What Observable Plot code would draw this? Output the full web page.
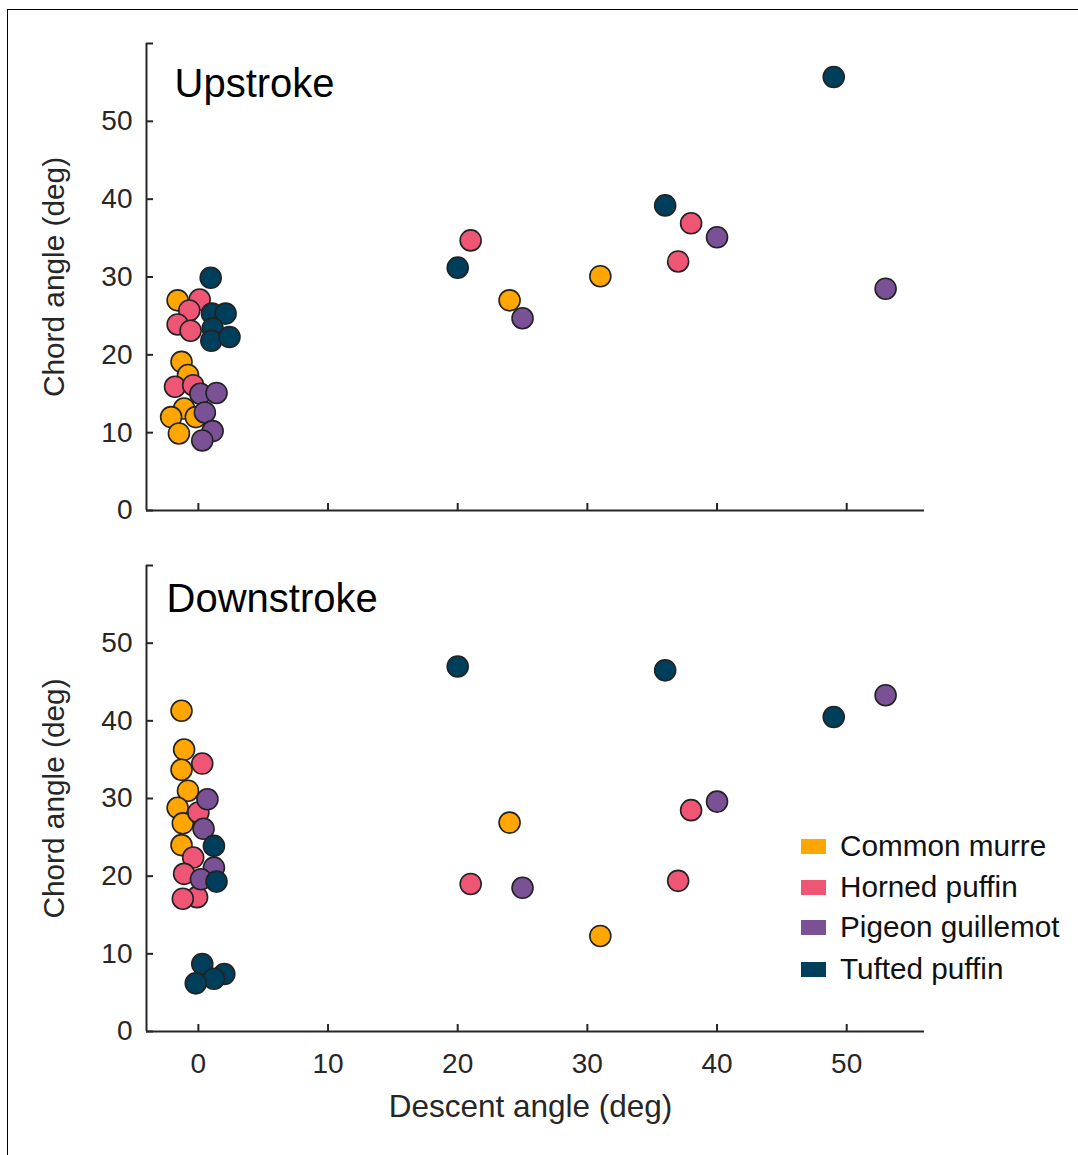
<!DOCTYPE html>
<html>
<head>
<meta charset="utf-8">
<script src="https://cdn.jsdelivr.net/npm/d3@7"></script>
<script src="https://cdn.jsdelivr.net/npm/@observablehq/plot@0.6"></script>
<style>
  html, body { margin: 0; padding: 0; background: #fff; }
  #wrap { position: relative; width: 1078px; height: 1155px; overflow: hidden; font-family: "Liberation Sans", Arial, sans-serif; }
  #frame { position: absolute; left: 7px; top: 9px; right: -5px; bottom: -5px; border-top: 1px solid #000; border-left: 1px solid #000; }
  .panel { position: absolute; left: 0; }
  #legend { position: absolute; left: 801px; top: 826px; }
  .row { position: absolute; left: 0; height: 40px; display: flex; align-items: center; white-space: nowrap; }
  .sw { width: 25px; height: 15px; margin-right: 14px; }
  .lab { font-size: 29.7px; color: #111; }
</style>
</head>
<body>
<div id="wrap"><div id="frame"></div></div>
<script>
// ---- data ----
const species = ["Common murre", "Horned puffin", "Pigeon guillemot", "Tufted puffin"];
const colors = ["#ffa600", "#ef5675", "#7a5195", "#003f5c"];
const panels = ["Upstroke", "Downstroke"];
const xTicks = [0, 10, 20, 30, 40, 50];
const yTicks = [0, 10, 20, 30, 40, 50, 60];

// [descent angle, chord angle]
const upMurre = [[-1.6,27.0],[-1.3,19.1],[-0.8,17.4],[-1.1,13.1],[-2.1,12.0],[-0.2,12.0],[-1.5,9.9],[24,27.0],[31,30.1]];
const upHorned = [[0.1,27.1],[-0.7,25.7],[-1.6,23.9],[-0.6,23.1],[-1.8,15.9],[-0.4,16.1],[21,34.7],[38,36.9],[37,32.0]];
const upPigeon = [[0.15,15.0],[1.4,15.1],[0.5,12.6],[1.1,10.2],[0.3,9.0],[25,24.7],[40,35.1],[53,28.5]];
const upTufted = [[0.95,29.9],[1.05,25.3],[2.1,25.3],[1.1,23.4],[1.0,21.8],[2.4,22.3],[20,31.2],[36,39.2],[49,55.7]];

const downMurre = [[-1.3,41.3],[-1.1,36.3],[-1.3,33.7],[-0.8,31.0],[-1.6,28.8],[-1.2,26.8],[-1.3,24.0],[24,26.9],[31,12.3]];
const downHorned = [[0.3,34.5],[0.0,28.2],[-0.4,22.4],[-1.1,20.3],[-0.1,17.3],[-1.2,17.1],[21,19.0],[38,28.5],[37,19.4]];
const downPigeon = [[0.7,29.9],[0.4,26.1],[1.2,21.1],[0.2,19.6],[25,18.5],[40,29.6],[53,43.3]];
const downTufted = [[1.2,23.9],[1.4,19.3],[0.3,8.7],[2.0,7.4],[1.2,6.8],[-0.2,6.2],[20,47.0],[36,46.5],[49,40.5]];

function rows(groups) {
  const out = [];
  groups.forEach((g, i) => g.forEach(([x, y]) => out.push({species: species[i], x, y})));
  return out;
}
const upData = rows([upMurre, upHorned, upPigeon, upTufted]);
const downData = rows([downMurre, downHorned, downPigeon, downTufted]);

const ink = "#262626";
const font = "'Liberation Sans', Arial, sans-serif";

function panel(data, title, opts) {
  return Plot.plot({
    width: 1078,
    height: opts.height,
    marginTop: opts.marginTop,
    marginBottom: opts.marginBottom,
    marginLeft: 146,
    marginRight: 154,
    style: {fontFamily: font, color: ink, background: "transparent", overflow: "visible"},
    x: {domain: [-4, 56]},
    y: {domain: [0, 60]},
    color: {domain: species, range: colors},
    marks: [
      Plot.ruleY([0], {stroke: ink, strokeWidth: 2}),
      Plot.ruleX([-4], {stroke: ink, strokeWidth: 2}),
      Plot.axisY({ticks: yTicks, tickSize: -7, tickPadding: 21, strokeWidth: 2, fontSize: 28, fill: ink,
        tickFormat: d => d === 60 ? "" : String(d), label: null}),
      Plot.axisX({ticks: xTicks, tickSize: -7, tickPadding: 29, strokeWidth: 2, fontSize: 28, fill: ink,
        tickFormat: opts.xLabels ? (d => String(d)) : (() => ""), label: null}),
      Plot.text(["Chord angle (deg)"], {frameAnchor: "left", rotate: -90, dx: -92, fontSize: 29.8, fill: ink, textAnchor: "middle"}),
      Plot.text([title], {frameAnchor: "top-left", textAnchor: "start", lineAnchor: "top", dx: opts.titleDx, dy: opts.titleDy, fontSize: 40, fill: "#000"}),
      ...(opts.xLabels ? [Plot.text(["Descent angle (deg)"], {frameAnchor: "bottom", lineAnchor: "top", dx: -5, dy: 63, fontSize: 31.5, fill: ink})] : []),
      Plot.dot(data, {x: "x", y: "y", fill: "species", r: 10.5, stroke: "#222", strokeWidth: 1.6})
    ]
  });
}

const wrap = document.getElementById("wrap");
const up = panel(upData, panels[0], {height: 540, marginTop: 43, marginBottom: 30, titleDx: 28, titleDy: 25, xLabels: false});
up.classList.add("panel"); up.style.top = "0px";
wrap.appendChild(up);
const down = panel(downData, panels[1], {height: 625, marginTop: 35, marginBottom: 124, titleDx: 20, titleDy: 18, xLabels: true});
down.classList.add("panel"); down.style.top = "530px";
wrap.appendChild(down);

const legend = document.createElement("div");
legend.id = "legend";
const rowTops = [0, 41, 81, 123];
species.forEach((s, i) => {
  const r = document.createElement("div");
  r.className = "row";
  r.style.top = rowTops[i] + "px";
  const sw = document.createElement("div");
  sw.className = "sw"; sw.style.background = colors[i];
  const lab = document.createElement("span");
  lab.className = "lab"; lab.textContent = s;
  r.appendChild(sw); r.appendChild(lab);
  legend.appendChild(r);
});
wrap.appendChild(legend);
</script>
</body>
</html>
